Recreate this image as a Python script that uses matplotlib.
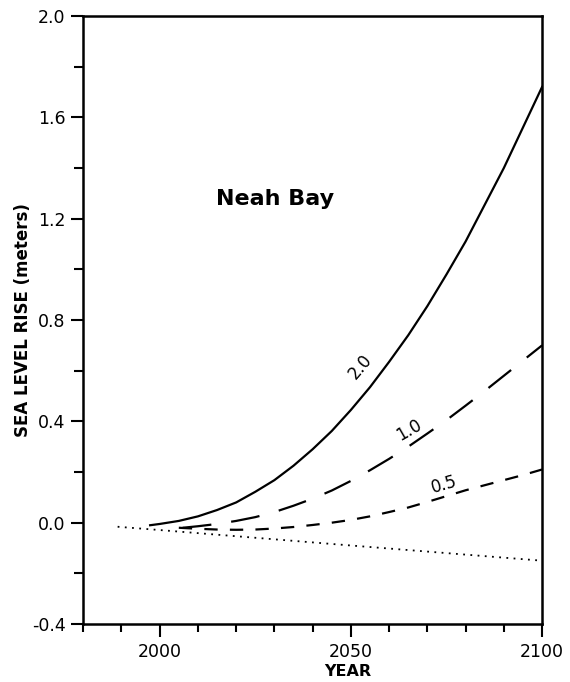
import matplotlib
matplotlib.use("Agg")
import matplotlib.pyplot as plt
from matplotlib.ticker import MultipleLocator, FormatStrFormatter

# scenario 2.0 m (solid)
years_20 = [1997.5, 2000, 2005, 2010, 2015, 2020, 2025, 2030, 2035, 2040, 2045,
            2050, 2055, 2060, 2065, 2070, 2075, 2080, 2085, 2090, 2095, 2100]
rise_20 = [-0.01, -0.005, 0.007, 0.025, 0.05, 0.08, 0.122, 0.168, 0.225, 0.29, 0.362,
           0.445, 0.535, 0.635, 0.74, 0.855, 0.98, 1.11, 1.255, 1.40, 1.56, 1.72]

# scenario 1.0 m (long dash)
years_10 = [2006, 2010, 2015, 2020, 2025, 2030, 2035, 2040, 2045, 2050,
            2055, 2060, 2065, 2070, 2075, 2080, 2085, 2090, 2095, 2100]
rise_10 = [-0.02, -0.014, -0.005, 0.007, 0.022, 0.042, 0.067, 0.095, 0.127, 0.165,
           0.207, 0.252, 0.300, 0.352, 0.405, 0.462, 0.52, 0.58, 0.64, 0.70]

# scenario 0.5 m (short dash)
years_05 = [2005, 2010, 2015, 2020, 2025, 2030, 2035, 2040, 2045, 2050,
            2055, 2060, 2065, 2070, 2075, 2080, 2085, 2090, 2095, 2100]
rise_05 = [-0.02, -0.024, -0.027, -0.028, -0.027, -0.023, -0.017, -0.009, 0.0, 0.011,
           0.025, 0.042, 0.06, 0.082, 0.105, 0.128, 0.148, 0.168, 0.188, 0.21]

# present trend (dotted)
years_trend = [1989, 2000, 2050, 2100]
rise_trend = [-0.016, -0.029, -0.09, -0.15]

fig = plt.figure(figsize=(5.7, 6.82), dpi=100)
ax = fig.add_axes([0.146, 0.085, 0.805, 0.8915])

ax.plot(years_20, rise_20, color="black", lw=1.6)
ax.plot(years_10, rise_10, color="black", lw=1.6, dashes=(13, 9))
ax.plot(years_05, rise_05, color="black", lw=1.6, dashes=(6, 5.5))
ax.plot(years_trend, rise_trend, color="black", lw=1.3, linestyle=(0, (1, 3)))

ax.text(2052.6, 0.615, "2.0", rotation=50, fontsize=12, ha="center", va="center",
        rotation_mode="anchor")
ax.text(2065.1, 0.365, "1.0", rotation=30, fontsize=12, ha="center", va="center",
        rotation_mode="anchor")
ax.text(2074.3, 0.152, "0.5", rotation=16, fontsize=12, ha="center", va="center",
        rotation_mode="anchor")
ax.text(2030.2, 1.254, "Neah Bay", fontsize=16, fontweight="bold",
        ha="center", va="baseline")

ax.set_xlim(1980, 2100)
ax.set_ylim(-0.4, 2.0)
ax.xaxis.set_major_locator(MultipleLocator(50))
ax.xaxis.set_minor_locator(MultipleLocator(10))
ax.yaxis.set_major_locator(MultipleLocator(0.4))
ax.yaxis.set_minor_locator(MultipleLocator(0.2))
ax.yaxis.set_major_formatter(FormatStrFormatter("%.1f"))
ax.set_xticks([2000, 2050, 2100])
ax.set_xticklabels(["2000", "2050", "2100"])

ax.tick_params(axis="both", which="major", direction="out", width=1.5,
               labelsize=12.5)
ax.tick_params(axis="x", which="major", length=9.4, pad=4)
ax.tick_params(axis="x", which="minor", direction="out", length=5.8, width=1.5)
ax.tick_params(axis="y", which="major", length=8.6, pad=4)
ax.tick_params(axis="y", which="minor", direction="out", length=6.5, width=1.5)
plt.rcParams["axes.unicode_minus"] = False
ax.set_yticklabels([f"{v:.1f}" for v in ax.get_yticks()])

for side in ax.spines.values():
    side.set_linewidth(1.8)

ax.set_xlabel("YEAR", fontsize=11.5, fontweight="bold")
ax.xaxis.set_label_coords(0.577, -0.065)
ax.set_ylabel("SEA LEVEL RISE (meters)", fontsize=12, fontweight="bold")
ax.yaxis.set_label_coords(-0.111, 0.5)

fig.savefig("out.png", dpi=100)
plt.close(fig)
